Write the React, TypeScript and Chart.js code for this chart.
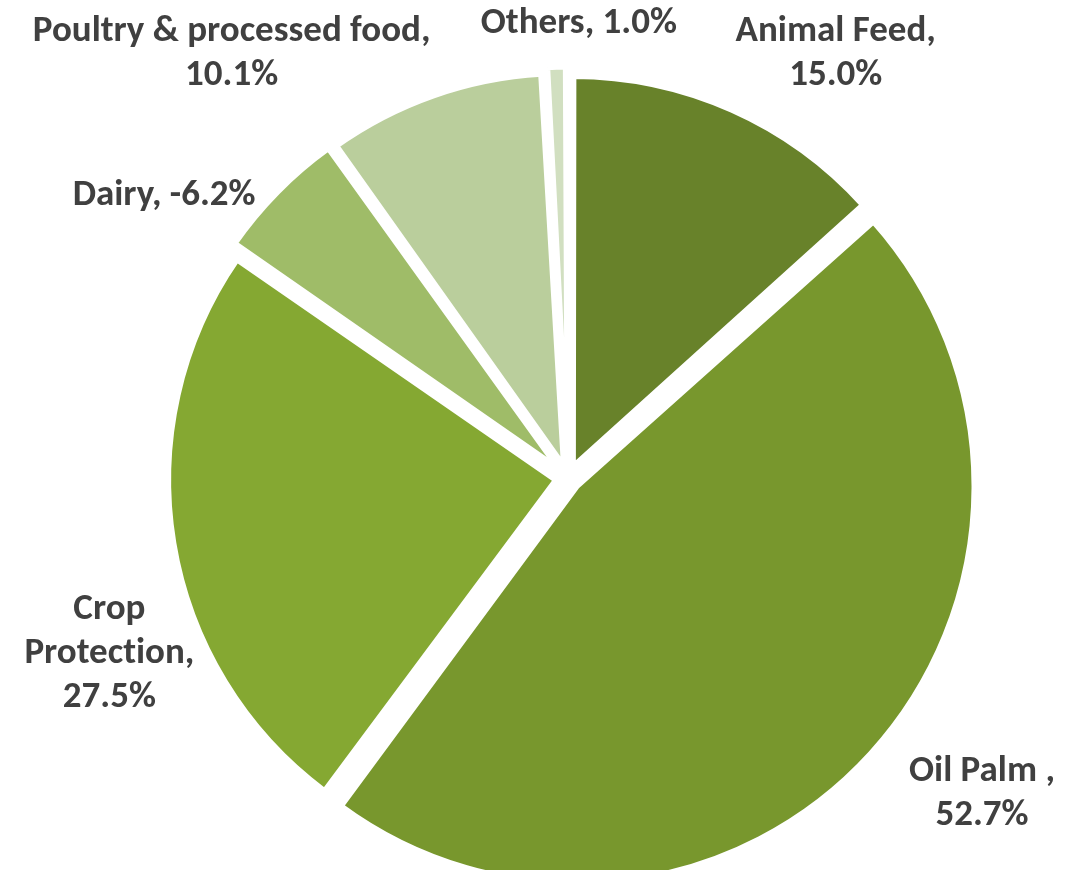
import React, { useEffect, useRef } from "react";
import { Chart, registerables } from "chart.js";

Chart.register(...registerables);

// ---- data ----
const categories = ["Animal Feed", "Oil Palm ", "Crop Protection", "Dairy", "Poultry & processed food", "Others"];
const growth = [15.0, 52.7, 27.5, -6.2, 10.1, 1.0];
const sliceColors = ["#68822A", "#78972D", "#85A832", "#9FBC68", "#BACE9C", "#D1DFC0"];

// ---- label layout (name lines, value on same line?) ----
const nameLines = [["Animal Feed"], ["Oil Palm "], ["Crop", "Protection"], ["Dairy"], ["Poultry & processed food"], ["Others"]];
const valueSameLine = [false, false, false, true, false, true];
// label block centres relative to pie centre, in units of outer radius
const labelPos = [
  [0.69, -1.093],
  [1.067, 0.815],
  [-1.182, 0.452],
  [-1.041, -0.727],
  [-0.867, -1.093],
  [0.028, -1.172],
];

const FONT = "bold 37px Carlito, 'Open Sans', sans-serif";
const LINE_H = 44;

const labelPlugin = {
  id: "pieLabels",
  afterDatasetsDraw(chart: any) {
    const meta = chart.getDatasetMeta(0);
    const arc0 = meta.data[0];
    if (!arc0) return;
    const cx = arc0.x;
    const cy = arc0.y;
    const R = arc0.outerRadius;
    const ctx = chart.ctx;
    ctx.save();
    ctx.font = FONT;
    try {
      (ctx as any).textRendering = "optimizeSpeed";
    } catch (e) {}
    ctx.fillStyle = "#404040";
    ctx.textAlign = "center";
    ctx.textBaseline = "middle";
    categories.forEach((_, i) => {
      const v = growth[i].toFixed(1) + "%";
      const names = nameLines[i].slice();
      const lines: string[] = [];
      names.forEach((n, j) => {
        if (j === names.length - 1) {
          if (valueSameLine[i]) lines.push(n + ", " + v);
          else {
            lines.push(n + ",");
            lines.push(v);
          }
        } else lines.push(n);
      });
      const x = cx + labelPos[i][0] * R;
      const y = cy + labelPos[i][1] * R;
      const top = y - ((lines.length - 1) * LINE_H) / 2;
      lines.forEach((l, k) => ctx.fillText(l, x, top + k * LINE_H));
    });
    ctx.restore();
  },
};

export default function App() {
  const ref = useRef<HTMLCanvasElement | null>(null);
  useEffect(() => {
    if (!ref.current) return;
    const chart = new Chart(ref.current, {
      type: "pie",
      data: {
        labels: categories,
        datasets: [
          {
            data: growth.map((g) => Math.abs(g)),
            backgroundColor: sliceColors,
            borderColor: "#ffffff",
            borderWidth: 6,
            offset: 48,
          },
        ],
      },
      options: {
        animation: false,
        responsive: false,
        radius: 388,
        layout: { padding: { left: 50, right: 0, top: 86, bottom: 0 } },
        plugins: {
          legend: { display: false },
          tooltip: { enabled: false },
        },
      } as any,
      plugins: [labelPlugin],
    });
    return () => chart.destroy();
  }, []);
  return (
    <div style={{ position: "absolute", left: 0, top: 0, width: 1086, height: 870, background: "#fff" }}>
      <canvas ref={ref} width={1086} height={870} style={{ width: 1086, height: 870 }} />
    </div>
  );
}
